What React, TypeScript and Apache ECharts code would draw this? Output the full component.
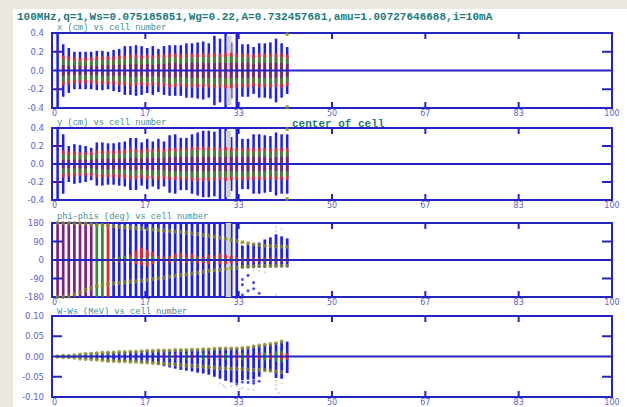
import React, { useEffect, useRef } from "react";
import * as echarts from "echarts";

const TITLE = "100MHz,q=1,Ws=0.075185851,Wg=0.22,A=0.732457681,amu=1.00727646688,i=10mA";
const SUBTITLES = ["x (cm) vs cell number", "y (cm) vs cell number", "phi-phis (deg) vs cell number", "W-Ws (MeV) vs cell number"];
const NOTE = "center of cell";

const xTickLabels = ["0", "17", "33", "50", "67", "83", "100"];
const xTickValues = [100 / 6, 200 / 6, 300 / 6, 400 / 6, 500 / 6];
const xyTickLabels = ["-0.4", "-0.2", "0.0", "0.2", "0.4"];
const phiTickLabels = ["-180", "-90", "0", "90", "180"];
const wTickLabels = ["-0.10", "-0.05", "0.00", "0.05", "0.10"];
const xyTickValues = [-0.2, 0.2];
const phiTickValues = [-90, 90];
const wTickValues = [-0.05, 0.05];

// cells 1..42
const cells = [1,2,3,4,5,6,7,8,9,10,11,12,13,14,15,16,17,18,19,20,21,22,23,24,25,26,27,28,29,30,31,32,33,34,35,36,37,38,39,40,41,42];

// ---- x (cm) panel: half extents per cell
const xBlue = [0.4,0.28,0.24,0.2,0.2,0.2,0.2,0.21,0.21,0.2, 0.22,0.23,0.26,0.26,0.27,0.26,0.24,0.26,0.23,0.26, 0.27,0.27,0.27,0.29,0.29,0.3,0.31,0.29,0.37,0.34, 0.4,0.3,0.4,0.28,0.28,0.25,0.29,0.29,0.3,0.34, 0.29,0.25];
const xRed = [0,0.16,0.15,0.14,0.14,0.14,0.14,0.15,0.15,0.15, 0.15,0.16,0.16,0.17,0.17,0.16,0.17,0.16,0.17,0.17, 0.18,0.18,0.17,0.18,0.18,0.18,0.18,0.18,0.19,0.18, 0.19,0.19,0.18,0.18,0.18,0.17,0.18,0.18,0.18,0.18, 0.18,0.17];
const xGreen = [0,0.12,0.11,0.1,0.1,0.1,0.1,0.11,0.11,0.11, 0.11,0.12,0.12,0.13,0.13,0.12,0.13,0.12,0.13,0.13, 0.14,0.14,0.13,0.14,0.14,0.14,0.14,0.14,0.15,0.14, 0.15,0.15,0.14,0.14,0.14,0.13,0.14,0.14,0.14,0.14, 0.14,0.13];
const xPurple = [0,0.06,0.05,0.05,0.05,0.05,0.05,0.05,0.06,0.06, 0.06,0.06,0.06,0.07,0.07,0.06,0.07,0.06,0.07,0.07, 0.08,0.08,0.07,0.08,0.08,0.08,0.08,0.08,0.08,0.08, 0.08,0.08,0.08,0.08,0.08,0.07,0.08,0.08,0.08,0.08, 0.08,0.07];
const xGreyCells = [31.6];
const xGreyExtent = [0.37];
const xEntryRed = [0.2, -0.2];
const xExitOlive = [0.39, -0.39];

// ---- y (cm) panel
const yBlue = [0.4,0.33,0.2,0.22,0.21,0.2,0.18,0.24,0.24,0.23, 0.23,0.24,0.25,0.29,0.29,0.24,0.28,0.25,0.28,0.25, 0.32,0.33,0.29,0.29,0.33,0.35,0.37,0.37,0.36,0.4, 0.4,0.3,0.4,0.28,0.28,0.33,0.33,0.32,0.31,0.35, 0.33,0.33];
const yRed = [0,0.15,0.14,0.14,0.13,0.13,0.14,0.15,0.15,0.15, 0.15,0.15,0.16,0.17,0.17,0.16,0.17,0.17,0.18,0.17, 0.18,0.18,0.18,0.18,0.19,0.19,0.19,0.19,0.19,0.18, 0.19,0.18,0.18,0.18,0.18,0.18,0.18,0.18,0.17,0.18, 0.18,0.18];
const yGreen = [0,0.11,0.1,0.1,0.1,0.1,0.1,0.11,0.11,0.11, 0.11,0.11,0.12,0.13,0.13,0.12,0.13,0.13,0.14,0.13, 0.14,0.14,0.14,0.14,0.15,0.15,0.15,0.15,0.15,0.14, 0.15,0.14,0.14,0.14,0.14,0.14,0.14,0.14,0.13,0.14, 0.14,0.14];
const yPurple = [0,0.05,0.05,0.05,0.05,0.05,0.05,0.06,0.06,0.06, 0.06,0.06,0.06,0.07,0.07,0.06,0.07,0.07,0.07,0.07, 0.08,0.08,0.08,0.08,0.08,0.08,0.08,0.08,0.08,0.08, 0.08,0.08,0.08,0.08,0.08,0.08,0.08,0.08,0.07,0.08, 0.08,0.08];
const yGreyCells = [31.5];
const yGreyExtent = [0.37];
const yEntryRed = [0.2, -0.2];
const yExitOlive = [0.39, -0.39];

// ---- phi-phis (deg) panel
const phiUp = [180,180,180,180,179,177,174,171,169,167, 165,162,160,158,155,153,151,148,146,143, 141,138,136,133,130,126,122,118,113,108, 103,97,92,86,81,76,73,70,68,66, 65,64];
const phiLo = [-180,-180,-178,-168,-157,-145,-135,-127,-121,-117, -114,-111,-108,-105,-103,-100,-97,-93,-89,-86, -82,-77,-73,-70,-66,-62,-57,-53,-50,-47, -44,-40,-37,-34,-32,-30,-29,-29,-28,-28, -28,-28];
const phiPurpleCells = [1,2,3,4,5,6,7];
const phiGreenFullCells = [8,9];
const phiRedFullCells = [10];
const phiBlueCells = [11,12,13,14,15,16,17,18,19,20,21,22,23,24,25,26,27,28,29,30,31,32,33,34,35,36,37,38,39,40,41,42];
const phiBlueHi = [180,180,180,180,180,180,180,180,180,180, 180,180,180,180,180,180,180,180,180,180, 180,180,180,70,75,80,85,100,110,125, 115,105];
const phiBlueLo = [-180,-180,-180,-180,-180,-180,-180,-180,-180,-180, -180,-180,-180,-180,-180,-180,-180,-180,-180,-180, -180,-180,-180,-40,-40,-38,-38,-38,-36,-36, -35,-35];
const phiRedHi = [10,12,15,25,45,60,50,40,20,15, 20,30,35,25,30,20,15,25,20,30, 25,20,15,12,12,12,10,12,15,12, 12,10];
const phiRedLo = [-10,-10,-12,-10,-20,-25,-30,-20,-10,-10, -15,-10,-10,-15,-10,-15,-15,-20,-10,-20, -20,-15,-15,-12,-10,-12,-10,-12,-10,-12, -10,-10];
const phiGreenHi = [8,15,20,12,10,8,12,20,10,8, 12,10,15,8,10,12,8,10,8,10, 8,8,6,8,6,8,6,8,6,8, 8,6];
const phiGreenLo = [-8,-6,-10,-8,-6,-8,-10,-8,-6,-8, -6,-8,-6,-8,-10,-6,-8,-6,-8,-6, -8,-6,-6,-8,-6,-6,-6,-8,-6,-6, -6,-6];
const phiGreyCells = [31.5];
const phiLostBlue = [[34, -95], [34, -120], [35, -150], [36, -140], [37, -162], [34, -170], [35, -75], [36, -110]];
const phiLostGrey = [[40, 160], [40, 140], [41, 150], [36, -45], [37, -55], [40, -170], [38, -60]];

// ---- W-Ws (MeV) panel
const wBlueHi = [0.001,0.002,0.002,0.003,0.005,0.006,0.007,0.008,0.009,0.01, 0.01,0.011,0.011,0.012,0.012,0.013,0.014,0.014,0.015,0.015, 0.015,0.016,0.016,0.016,0.017,0.017,0.018,0.018,0.019,0.02, 0.02,0.02,0.02,0.021,0.022,0.025,0.027,0.029,0.031,0.033, 0.037,0.037];
const wBlueLo = [-0.001,-0.002,-0.002,-0.003,-0.005,-0.006,-0.007,-0.008,-0.009,-0.011, -0.011,-0.012,-0.012,-0.013,-0.013,-0.014,-0.015,-0.016,-0.02,-0.024, -0.027,-0.03,-0.033,-0.035,-0.037,-0.04,-0.042,-0.045,-0.05,-0.055, -0.06,-0.064,-0.066,-0.058,-0.057,-0.056,-0.05,-0.036,-0.036,-0.053, -0.055,-0.041];
const wOliveCells = [1,2,3,4,5,6,7,8,9,10,11,12,13,14,15,16,17,18,19,20,21,22,23,24,25,26,27,28,29,30,31,32,33,34,35,36,37,38,39,40,41];
const wOliveUp = [0,0.002,0.002,0.003,0.005,0.006,0.007,0.008,0.009,0.01, 0.01,0.011,0.011,0.012,0.012,0.013,0.014,0.014,0.015,0.015, 0.015,0.016,0.016,0.016,0.017,0.017,0.018,0.018,0.019,0.02, 0.02,0.02,0.02,0.021,0.022,0.025,0.027,0.029,0.031,0.033, 0.037];
const wOliveLo = [0,-0.002,-0.002,-0.003,-0.005,-0.006,-0.007,-0.008,-0.009,-0.011, -0.011,-0.012,-0.012,-0.013,-0.013,-0.014,-0.015,-0.016,-0.017,-0.018, -0.019,-0.02,-0.021,-0.022,-0.023,-0.024,-0.025,-0.026,-0.027,-0.029, -0.029,-0.03,-0.03,-0.031,-0.032,-0.033,-0.033,-0.034,-0.035,-0.037, -0.039];
const wRedCells = [20,22,25,28,30,33,35,37,39,41,42];
const wRedExt = [0.004,0.005,0.005,0.006,0.006,0.007,0.006,0.007,0.008,0.008,0.008];
const wGreenCells = [21,24,27,31,34,38,40,41];
const wGreenExt = [0.006,0.007,0.008,0.008,0.009,0.01,0.012,0.014];
const wLostBlue = [[33, -0.069], [34, -0.063], [35, -0.064], [36, -0.06], [36, -0.066], [37, -0.061]];
const wLostGrey = [[30, -0.066], [30.6, -0.071], [31, -0.076], [32, -0.073], [33, -0.072], [33.5, -0.08], [34, -0.078], [35, -0.081], [36, -0.082], [40, -0.06], [40, -0.07], [40, -0.08], [40.5, -0.09], [41, -0.066]];

const FRAME = "#2424c0";
const BLUE = "#1c1cf5";
const RED = "#f52222";
const GREEN = "#2f8f2f";
const PURPLE = "#7d2082";
const OLIVE = "#8a8a24";
const GREY = "#d2d2d2";
const LABEL = "#6060cc";
const TEAL = "#237a7a";
const TEAL2 = "#3f9090";
const X_INTERVAL = 100 / 6;

const grids = [
  { left: 52, top: 33, width: 560, height: 75 },
  { left: 52, top: 128, width: 560, height: 72 },
  { left: 52, top: 223, width: 560, height: 74 },
  { left: 52, top: 316, width: 560, height: 81 },
];
const yConf = [
  { min: -0.4, max: 0.4, interval: 0.2, labels: xyTickLabels, ticks: xyTickValues },
  { min: -0.4, max: 0.4, interval: 0.2, labels: xyTickLabels, ticks: xyTickValues },
  { min: -180, max: 180, interval: 90, labels: phiTickLabels, ticks: phiTickValues },
  { min: -0.1, max: 0.1, interval: 0.05, labels: wTickLabels, ticks: wTickValues },
];

function bars(gi: number, data: number[][], color: string, width: number, z = 2) {
  return {
    type: "custom",
    xAxisIndex: gi,
    yAxisIndex: gi,
    data,
    clip: true,
    silent: true,
    z,
    encode: { x: 0, y: [1, 2] },
    renderItem: (_p: any, api: any) => {
      const x = api.value(0);
      const lo = api.value(1);
      const hi = api.value(2);
      const p1 = api.coord([x, hi]);
      const p2 = api.coord([x, lo]);
      return {
        type: "rect",
        shape: { x: p1[0] - width / 2, y: p1[1], width, height: Math.max(p2[1] - p1[1], 1.5) },
        style: { fill: color },
      };
    },
  };
}
function dots(gi: number, data: number[][], color: string, size: number, z = 3) {
  return {
    type: "scatter",
    xAxisIndex: gi,
    yAxisIndex: gi,
    data,
    symbol: "circle",
    symbolSize: size,
    itemStyle: { color },
    silent: true,
    z,
  };
}
// tick marks drawn as small rects on an edge of the plot frame
// edge: 0 top, 1 bottom, 2 left, 3 right
function ticks(gi: number, data: number[][], edge: number) {
  return {
    type: "custom", xAxisIndex: gi, yAxisIndex: gi, silent: true, z: 8, clip: false,
    data,
    encode: { x: 0, y: 1 },
    renderItem: (params: any, api: any) => {
      const cs = params.coordSys;
      const p = api.coord([api.value(0), api.value(1)]);
      let shape;
      if (edge === 0) shape = { x: p[0] - 1, y: cs.y, width: 2, height: 6 };
      else if (edge === 1) shape = { x: p[0] - 1, y: cs.y + cs.height - 6, width: 2, height: 6 };
      else if (edge === 2) shape = { x: cs.x, y: p[1] - 1, width: 10, height: 2 };
      else shape = { x: cs.x + cs.width - 10, y: p[1] - 1, width: 10, height: 2 };
      return { type: "rect", shape, style: { fill: FRAME } };
    },
  };
}
function zeroLine(gi: number) {
  return {
    type: "custom", xAxisIndex: gi, yAxisIndex: gi, silent: true, z: 8, clip: false,
    data: [[0, 0]],
    encode: { x: 0, y: 1 },
    renderItem: (params: any, api: any) => {
      const cs = params.coordSys;
      const py = api.coord([0, 0])[1];
      return { type: "rect", shape: { x: cs.x, y: py - 1, width: cs.width, height: 2 }, style: { fill: FRAME } };
    },
  };
}
const sym = (cs: number[], ext: number[]) => cs.map((c, i) => [c, -ext[i], ext[i]]).filter((d) => d[2] > 0);
const full = (cs: number[], lo: number, hi: number) => cs.map((c) => [c, lo, hi]);
const pair = (cs: number[], lo: number[], hi: number[]) => cs.map((c, i) => [c, lo[i], hi[i]]);

export default function App() {
  const ref = useRef<HTMLDivElement>(null);
  useEffect(() => {
    document.body.style.margin = "0";
    if (!ref.current) return;
    const chart = echarts.init(ref.current, null, { renderer: "svg" });

    const xAxes: any[] = grids.map((_g, i) => ({
      type: "value", gridIndex: i, min: 0, max: 100, interval: X_INTERVAL, position: "bottom",
      axisLine: { show: false, onZero: false }, splitLine: { show: false }, axisTick: { show: false },
      axisLabel: {
        show: true, margin: 1, fontSize: 8, fontFamily: "DejaVu Sans", color: LABEL,
        showMinLabel: true, showMaxLabel: true, alignMinLabel: "left",
        formatter: (v: number) => xTickLabels[Math.round(v / X_INTERVAL)] ?? "",
      },
    }));
    const yAxes: any[] = grids.map((_g, i) => {
      const yc = yConf[i];
      return {
        type: "value", gridIndex: i, min: yc.min, max: yc.max, interval: yc.interval, position: "left",
        axisLine: { show: false, onZero: false }, splitLine: { show: false }, axisTick: { show: false },
        axisLabel: {
          show: true, margin: 8, fontSize: 8.5, fontFamily: "DejaVu Sans", color: LABEL,
          showMinLabel: true, showMaxLabel: true,
          formatter: (v: number) => yc.labels[Math.round((v - yc.min) / yc.interval)] ?? "",
        },
      };
    });

    const series: any[] = [
      // panel 1
      bars(0, sym(cells, xBlue), BLUE, 2.5),
      bars(0, sym(xGreyCells, xGreyExtent), GREY, 5),
      bars(0, sym(cells, xRed), RED, 2.5),
      bars(0, sym(cells, xGreen), GREEN, 2.5),
      bars(0, sym(cells, xPurple), PURPLE, 2.5),
      dots(0, xEntryRed.map((v) => [1, v]), RED, 4),
      dots(0, xExitOlive.map((v) => [42, v]), OLIVE, 4),
      // panel 2
      bars(1, sym(cells, yBlue), BLUE, 2.5),
      bars(1, sym(yGreyCells, yGreyExtent), GREY, 5),
      bars(1, sym(cells, yRed), RED, 2.5),
      bars(1, sym(cells, yGreen), GREEN, 2.5),
      bars(1, sym(cells, yPurple), PURPLE, 2.5),
      dots(1, yEntryRed.map((v) => [1, v]), RED, 4),
      dots(1, yExitOlive.map((v) => [42, v]), OLIVE, 4),
      // panel 3
      bars(2, pair(phiBlueCells, phiBlueLo, phiBlueHi), BLUE, 2.7),
      bars(2, full(phiGreyCells, -180, 180), GREY, 5),
      bars(2, full(phiPurpleCells, -180, 180), PURPLE, 2.7),
      bars(2, full(phiGreenFullCells, -180, 180), GREEN, 2.7),
      bars(2, full(phiRedFullCells, -180, 180), RED, 2.7),
      bars(2, pair(phiBlueCells, phiRedLo, phiRedHi), RED, 2.7),
      bars(2, pair(phiBlueCells, phiGreenLo, phiGreenHi), GREEN, 2.7),
      dots(2, phiLostBlue, BLUE, 3),
      dots(2, phiLostGrey, GREY, 2.5),
      dots(2, cells.map((c, i) => [c, phiUp[i]]), OLIVE, 4),
      dots(2, cells.map((c, i) => [c, phiLo[i]]), OLIVE, 4),
      // panel 4
      bars(3, pair(cells, wBlueLo, wBlueHi), BLUE, 2.7),
      bars(3, sym(wGreenCells, wGreenExt), GREEN, 2.7),
      bars(3, sym(wRedCells, wRedExt), RED, 2.7),
      dots(3, wLostBlue, BLUE, 3),
      dots(3, wLostGrey, GREY, 2.5),
      dots(3, wOliveCells.map((c, i) => [c, wOliveUp[i]]), OLIVE, 4),
      dots(3, wOliveCells.map((c, i) => [c, wOliveLo[i]]), OLIVE, 4),
    ];
    grids.forEach((_g, i) => {
      const xd = xTickValues.map((v) => [v, 0]);
      const yd = yConf[i].ticks.map((v) => [50, v]);
      series.push(zeroLine(i), ticks(i, xd, 0), ticks(i, xd, 1), ticks(i, yd, 2), ticks(i, yd, 3));
    });

    const subY = [28, 123, 217, 312];
    const graphic: any[] = [
      { type: "text", x: 17, y: 17, z: 10, style: { text: TITLE, font: 'bold 11px "Liberation Mono"', fill: TEAL, verticalAlign: "middle" } },
      { type: "text", x: 292, y: 124, z: 10, style: { text: NOTE, font: 'bold 11px "Liberation Mono"', fill: TEAL, verticalAlign: "middle" } },
      ...SUBTITLES.map((s, i) => ({
        type: "text", x: 57, y: subY[i], z: 10,
        style: { text: s, font: '8.7px "Liberation Mono"', fill: TEAL2, verticalAlign: "middle" },
      })),
    ];

    chart.setOption({
      animation: false,
      backgroundColor: "transparent",
      grid: grids.map((g) => ({ ...g, show: true, borderColor: FRAME, borderWidth: 2, backgroundColor: "transparent", containLabel: false })),
      xAxis: xAxes,
      yAxis: yAxes,
      series,
      graphic,
    });
    return () => chart.dispose();
  }, []);

  return (
    <div style={{ position: "relative", width: 627, height: 407, background: "#ebe9df", overflow: "hidden" }}>
      <div style={{ position: "absolute", left: 13, top: 9, width: 614, height: 398, background: "#ffffff" }} />
      <div ref={ref} style={{ position: "absolute", left: 0, top: 0, width: 627, height: 407 }} />
    </div>
  );
}
